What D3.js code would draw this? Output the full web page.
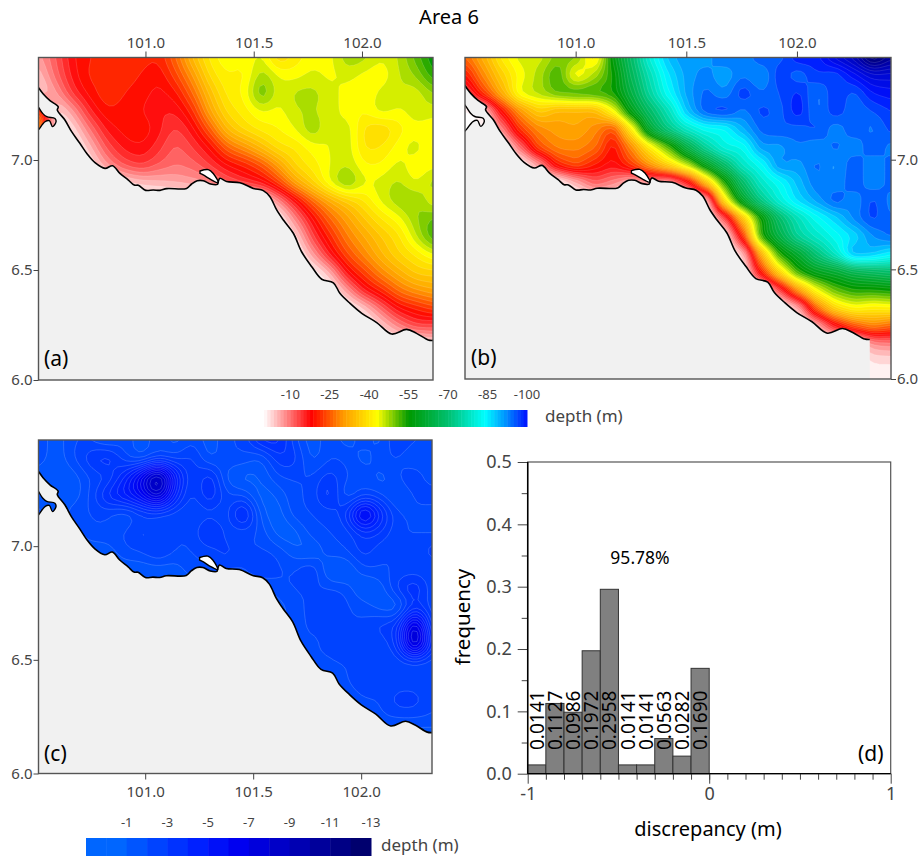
<!DOCTYPE html>
<html>
<head>
<meta charset="utf-8">
<script src="https://cdn.jsdelivr.net/npm/d3@7"></script>
<style>
  html, body { margin: 0; padding: 0; background: #fff; }
  svg text { font-family: "Noto Sans", sans-serif; }
</style>
</head>
<body>
<svg id="chart" width="919" height="861"></svg>
<script>
// depth, metres below sea level, rows top to bottom, land = 0
var depthA = [
  [8,13,19,21,22,21,22,21,27,36,42,45,43,46,38,42,44,44,49,48,45,47,52,57],
  [5,12,18,22,21,22,21,19,24,31,40,43,42,49,45,44,46,44,46,44,43,47,49,55],
  [3,8,16,20,23,21,20,18,20,27,36,42,43,53,45,48,48,46,44,43,46,47,45,49],
  [28,2,8,17,21,20,19,17,17,22,33,40,42,45,44,47,47,46,44,43,47,44,47,46],
  [38,0,3,11,18,20,21,18,14,18,26,36,40,42,43,45,50,44,47,40,38,42,44,43],
  [5,0,0,6,14,18,19,16,12,15,19,27,31,36,41,41,44,45,47,40,41,44,47,42],
  [0,0,0,2,9,14,16,13,11,12,15,19,21,25,32,40,42,45,47,43,43,46,43,44],
  [0,0,0,0,0,3,5,6,7,8,9,13,16,18,24,33,39,46,52,45,46,48,44,49],
  [0,0,0,0,0,0,0,0,0,0,0,0,0,0,9,18,27,33,37,41,46,49,50,44],
  [0,0,0,0,0,0,0,0,0,0,0,0,0,0,0,10,19,27,32,37,41,44,49,52],
  [0,0,0,0,0,0,0,0,0,0,0,0,0,0,0,3,15,22,29,33,37,40,47,54],
  [0,0,0,0,0,0,0,0,0,0,0,0,0,0,0,0,8,18,25,30,35,39,41,45],
  [0,0,0,0,0,0,0,0,0,0,0,0,0,0,0,0,0,6,19,24,30,34,38,38],
  [0,0,0,0,0,0,0,0,0,0,0,0,0,0,0,0,0,0,8,18,22,28,31,33],
  [0,0,0,0,0,0,0,0,0,0,0,0,0,0,0,0,0,0,0,4,12,19,21,24],
  [0,0,0,0,0,0,0,0,0,0,0,0,0,0,0,0,0,0,0,0,4,10,15,14],
  [0,0,0,0,0,0,0,0,0,0,0,0,0,0,0,0,0,0,0,0,0,0,0,3],
  [0,0,0,0,0,0,0,0,0,0,0,0,0,0,0,0,0,0,0,0,0,0,0,0],
  [0,0,0,0,0,0,0,0,0,0,0,0,0,0,0,0,0,0,0,0,0,0,0,0]
];

// panel (b)
var depthB = [
  [27,34,42,46,46,50,50,40,58,70,82,90,93,92,95,93,97,96,101,100,106,110,120,114],
  [20,30,38,44,48,54,42,48,55,68,78,87,92,94,91,95,92,99,95,99,97,102,106,106],
  [12,24,34,46,48,52,54,54,55,65,76,85,92,96,93,99,95,97,100,94,99,96,101,102],
  [0,3,20,31,38,34,34,34,44,60,70,78,90,97,99,94,98,96,101,94,99,95,97,99],
  [0,0,10,24,30,32,33,30,24,42,64,74,80,84,84,91,96,97,96,98,93,97,94,98],
  [0,0,0,12,26,30,30,28,19,30,42,52,66,76,83,83,93,92,95,93,96,93,97,94],
  [0,0,0,0,8,22,26,21,18,24,32,40,48,60,70,80,84,94,92,96,92,97,93,96],
  [0,0,0,0,0,0,6,13,10,5,8,6,16,36,54,70,80,84,90,95,93,97,93,96],
  [0,0,0,0,0,0,0,0,0,0,0,0,0,2,42,62,74,82,88,92,97,93,98,94],
  [0,0,0,0,0,0,0,0,0,0,0,0,0,0,12,36,55,70,78,84,88,94,98,95],
  [0,0,0,0,0,0,0,0,0,0,0,0,0,0,0,22,56,66,76,80,84,87,93,96],
  [0,0,0,0,0,0,0,0,0,0,0,0,0,0,0,4,34,55,62,72,80,92,90,86],
  [0,0,0,0,0,0,0,0,0,0,0,0,0,0,0,0,22,40,55,60,62,66,68,70],
  [0,0,0,0,0,0,0,0,0,0,0,0,0,0,0,0,0,14,32,45,52,55,55,56],
  [0,0,0,0,0,0,0,0,0,0,0,0,0,0,0,0,0,0,6,28,40,44,42,43],
  [0,0,0,0,0,0,0,0,0,0,0,0,0,0,0,0,0,0,0,6,18,26,30,27],
  [0,0,0,0,0,0,0,0,0,0,0,0,0,0,0,0,0,0,0,0,0,0,9,10],
  [0,0,0,0,0,0,0,0,0,0,0,0,0,0,0,0,0,0,0,0,0,0,3,3],
  [0,0,0,0,0,0,0,0,0,0,0,0,0,0,0,0,0,0,0,0,0,0,2,2]
];

// panel (c), size of the difference in metres, land left at the background level
var depthC = [
  [3,2,3,3,2,3,2,3,2,3,2,3,3,5,5,3,2,3,2,3,2,4,3,3],
  [3,2,3,4,5,3,2,3,3,4,2,3,3,2,4,4,2,3,3,2,3,3,2,3],
  [2,2,2,3,3,5,8,12,6,3,5,2,1.5,2,3,3,3,4,3,3,2,3,4,2],
  [2,2,2,3,5,6,7,10,5,3,5,3,3,1.5,2,3,3,5,2,3,3,2,3,4],
  [3,2,3,3,3,2,3,3,3,3,3,3,6,2,1.5,3,3,3,4,9,5,3,3,2],
  [2,2,2,3,3,3,4,3,3,3,5,3,3,3,1.5,1.5,3,3,3,4,4,3,3,3],
  [2,2,2,2,2,3,3,4,3,3,3,4,3,3,3,2,1.5,3,3,4,3,3,3,4],
  [2,2,2,2,2,2,2,2,2,3,3,3,3,4,3,3,4,1.5,1.5,3,3,3,3,3],
  [2,2,2,2,2,2,2,2,2,2,2,2,2,2,3,3,3,3,3,1.5,2,4,5,3],
  [2,2,2,2,2,2,2,2,2,2,2,2,2,2,2,3,3,4,3,3,2,1.5,4,3],
  [2,2,2,2,2,2,2,2,2,2,2,2,2,2,2,3,3,3,3,3,4,4,10,3],
  [2,2,2,2,2,2,2,2,2,2,2,2,2,2,2,3,3,3,4,3,3,4,11,4],
  [2,2,2,2,2,2,2,2,2,2,2,2,2,2,2,2,3,3,3,3,3,3,3,3],
  [2,2,2,2,2,2,2,2,2,2,2,2,2,2,2,2,2,2,3,4,3,3,3,3],
  [2,2,2,2,2,2,2,2,2,2,2,2,2,2,2,2,2,2,2,3,3,4,4,3],
  [2,2,2,2,2,2,2,2,2,2,2,2,2,2,2,2,2,2,2,2,3,3,3,3],
  [2,2,2,2,2,2,2,2,2,2,2,2,2,2,2,2,2,2,2,2,2,2,2,2],
  [2,2,2,2,2,2,2,2,2,2,2,2,2,2,2,2,2,2,2,2,2,2,2,2],
  [2,2,2,2,2,2,2,2,2,2,2,2,2,2,2,2,2,2,2,2,2,2,2,2]
];

// coast outline, lon/lat
var coastLon = [100.49,100.505,100.528,100.559,100.597,100.593,100.628,100.659,100.697,100.731,100.767,100.813,100.848,100.882,100.921,100.948,100.967,101.001,101.036,101.067,101.098,101.190,101.213,101.239,101.267,101.301,101.332,101.336,101.344,101.375,101.436,101.498,101.544,101.575,101.606,101.637,101.683,101.721,101.768,101.814,101.868,101.898,101.945,101.999,102.068,102.137,102.206,102.252,102.306,102.329];
var coastLat = [7.352,7.330,7.300,7.270,7.242,7.227,7.182,7.129,7.076,7.027,6.988,6.962,6.974,6.939,6.909,6.886,6.885,6.862,6.864,6.862,6.870,6.871,6.891,6.906,6.906,6.891,6.889,6.902,6.917,6.902,6.897,6.871,6.861,6.833,6.773,6.727,6.667,6.583,6.515,6.458,6.442,6.394,6.348,6.303,6.261,6.209,6.230,6.212,6.182,6.180];
var islandLon = [101.252,101.290,101.313,101.336,101.306,101.267,101.252];
var islandLat = [6.950,6.956,6.939,6.897,6.909,6.932,6.939];
var inletLon = [100.49,100.505,100.525,100.544,100.582,100.587,100.571,100.556,100.536,100.505,100.49];
var inletLat = [7.262,7.242,7.212,7.197,7.189,7.174,7.152,7.179,7.174,7.136,7.122];

var lonTicks = [101.0, 101.5, 102.0];
var latTicks = [6.0, 6.5, 7.0];

var depthTicks = [-10, -25, -40, -55, -70, -85, -100];
var diffTicks = [-1, -3, -5, -7, -9, -11, -13];

var histBins = [-1, -0.9, -0.8, -0.7, -0.6, -0.5, -0.4, -0.3, -0.2, -0.1];
var histFreq = [0.0141, 0.1127, 0.0986, 0.1972, 0.2958, 0.0141, 0.0141, 0.0563, 0.0282, 0.1690];
var freqTicks = [0, 0.1, 0.2, 0.3, 0.4, 0.5];

var tickColor = '#444';

var depthColor = d3.scaleLinear()
  .domain([0, 18, 30, 43, 55, 70, 84, 92, 100, 112, 125])
  .range(['#ffffff', '#ff0000', '#ff9900', '#ffff00', '#009900', '#00c070', '#00ffff', '#0090ff', '#0010ff', '#0000a0', '#000030'])
  .clamp(true);

var diffColor = d3.scaleLinear()
  .domain([1, 5, 7, 9, 13])
  .range(['#0066ff', '#0020ff', '#0000f0', '#0000c8', '#00006e'])
  .clamp(true);

var svg = d3.select('#chart');

svg.append('text')
  .attr('x', 449).attr('y', 24)
  .attr('text-anchor', 'middle')
  .style('font-size', '20px')
  .text('Area 6');

function styleAxis(g, size) {
  g.select('.domain').remove();
  g.selectAll('line').attr('stroke', '#444').attr('stroke-width', 1);
  g.selectAll('text').attr('fill', tickColor).style('font-size', size + 'px');
}

function drawMap(cfg) {
  var x = d3.scaleLinear().domain(cfg.lon).range([cfg.left, cfg.right]);
  var y = d3.scaleLinear().domain(cfg.lat).range([cfg.bottom, cfg.top]);

  var ny = cfg.grid.length, nx = cfg.grid[0].length;
  var f = 4;  // cells per reading, so the blur has room to round the contours
  var W = nx * f, H = ny * f;
  var values = new Float64Array(W * H);
  for (var j = 0; j < H; j++) {
    for (var i = 0; i < W; i++) {
      values[j * W + i] = cfg.grid[Math.floor(j / f)][Math.floor(i / f)];
    }
  }
  d3.blur2({data: values, width: W, height: H}, cfg.blur);

  var gx = d3.scaleLinear().domain([f / 2, W - f / 2]).range([cfg.left, cfg.right]);
  var gy = d3.scaleLinear().domain([f / 2, H - f / 2]).range([cfg.top, cfg.bottom]);
  var path = d3.geoPath(d3.geoTransform({
    point: function(a, b) { this.stream.point(gx(a), gy(b)); }
  }));

  var contours = d3.contours().size([W, H]).thresholds(cfg.levels)(values);

  svg.append('clipPath').attr('id', 'clip-' + cfg.id)
    .append('rect')
    .attr('x', cfg.left).attr('y', cfg.top)
    .attr('width', cfg.right - cfg.left).attr('height', cfg.bottom - cfg.top);

  var g = svg.append('g').attr('clip-path', 'url(#clip-' + cfg.id + ')');

  g.append('rect')
    .attr('x', cfg.left).attr('y', cfg.top)
    .attr('width', cfg.right - cfg.left).attr('height', cfg.bottom - cfg.top)
    .attr('fill', cfg.color(0));

  g.selectAll('path.band').data(contours).enter().append('path')
    .attr('class', 'band')
    .attr('d', path)
    .attr('fill', function(d) { return cfg.color(d.value); })
    .attr('stroke', cfg.line)
    .attr('stroke-width', 0.5);

  var line = d3.line()
    .x(function(d) { return x(d[0]); })
    .y(function(d) { return y(d[1]); })
    .curve(d3.curveCatmullRom.alpha(0.5));

  var coast = d3.zip(coastLon, coastLat);
  var inlet = d3.zip(inletLon, inletLat);
  var island = d3.zip(islandLon, islandLat);
  var lastLon = coastLon[coastLon.length - 1];
  var land = line(coast) +
    'L' + x(lastLon) + ',' + (cfg.bottom + 5) +
    'L' + x(coastLon[0]) + ',' + (cfg.bottom + 5) + 'Z' +
    line(inlet) + 'Z';

  g.append('path')
    .attr('d', land)
    .attr('fill', '#f1f1f1')
    .attr('fill-rule', 'evenodd');

  g.append('path')
    .attr('d', line(island) + 'Z')
    .attr('fill', '#fff')
    .attr('stroke', '#000')
    .attr('stroke-width', 1.4);

  g.append('path')
    .attr('d', line(coast))
    .attr('fill', 'none')
    .attr('stroke', '#000')
    .attr('stroke-width', 1.6);

  g.append('path')
    .attr('d', line(inlet))
    .attr('fill', 'none')
    .attr('stroke', '#000')
    .attr('stroke-width', 1.4);

  // frame
  svg.append('rect')
    .attr('x', cfg.left).attr('y', cfg.top)
    .attr('width', cfg.right - cfg.left).attr('height', cfg.bottom - cfg.top)
    .attr('fill', 'none')
    .attr('stroke', '#555')
    .attr('stroke-width', 1.4);

  var lonAxis = (cfg.lonSide === 'top' ? d3.axisTop(x) : d3.axisBottom(x))
    .tickValues(lonTicks).tickFormat(d3.format('.1f')).tickSize(6).tickPadding(cfg.lonSide === 'top' ? 4 : 7);
  svg.append('g')
    .attr('transform', 'translate(0,' + (cfg.lonSide === 'top' ? cfg.top : cfg.bottom) + ')')
    .call(lonAxis)
    .call(styleAxis, 15);

  var latAxis = (cfg.latSide === 'left' ? d3.axisLeft(y) : d3.axisRight(y))
    .tickValues(latTicks).tickFormat(d3.format('.1f')).tickSize(5).tickPadding(1);
  svg.append('g')
    .attr('transform', 'translate(' + (cfg.latSide === 'left' ? cfg.left : cfg.right) + ',0)')
    .call(latAxis)
    .call(styleAxis, 15);

  svg.append('text')
    .attr('x', cfg.tagX).attr('y', cfg.tagY)
    .style('font-size', '21px')
    .text(cfg.tag);
}

drawMap({
  id: 'a', tag: '(a)', tagX: 44, tagY: 366,
  grid: depthA, color: depthColor, levels: d3.range(1, 126, 2), blur: 1.2,
  line: 'rgba(255,255,255,0.3)',
  lon: [100.506, 102.328], lat: [6.0, 7.466],
  left: 38.5, right: 433, top: 57.5, bottom: 380,
  lonSide: 'top', latSide: 'left'
});

drawMap({
  id: 'b', tag: '(b)', tagX: 471, tagY: 365,
  grid: depthB, color: depthColor, levels: d3.range(1, 126, 2), blur: 1,
  line: 'rgba(255,255,255,0.25)',
  lon: [100.5, 102.425], lat: [6.0, 7.466],
  left: 465, right: 891, top: 57.5, bottom: 379,
  lonSide: 'top', latSide: 'right'
});

drawMap({
  id: 'c', tag: '(c)', tagX: 44, tagY: 761,
  grid: depthC, color: diffColor, levels: d3.range(1, 14, 0.5), blur: 1.3,
  line: 'rgba(190,215,255,0.45)',
  lon: [100.506, 102.328], lat: [6.0, 7.467],
  left: 38.5, right: 432, top: 440, bottom: 773.5,
  lonSide: 'bottom', latSide: 'left'
});

// colour bars
function drawLegend(cfg) {
  var x = d3.scaleLinear().domain(cfg.domain).range([cfg.left, cfg.right]);
  svg.selectAll('rect.' + cfg.id).data(cfg.swatches).enter().append('rect')
    .attr('class', cfg.id)
    .attr('x', function(d) { return x(d); })
    .attr('y', cfg.top)
    .attr('width', function(d) { return x(d - cfg.step) - x(d) + 0.5; })
    .attr('height', cfg.height)
    .attr('fill', function(d) { return cfg.color(-d + cfg.step / 2); });

  svg.selectAll('text.' + cfg.id).data(cfg.ticks).enter().append('text')
    .attr('class', cfg.id)
    .attr('x', function(d) { return x(d); })
    .attr('y', cfg.top - 11)
    .attr('text-anchor', 'middle')
    .attr('fill', tickColor)
    .style('font-size', '13px')
    .text(function(d) { return d; });

  svg.append('text')
    .attr('x', cfg.labelX).attr('y', cfg.top + cfg.height - 5)
    .attr('fill', tickColor)
    .style('font-size', '17px')
    .text('depth (m)');
}

drawLegend({
  id: 'legend-depth', domain: [0, -100], left: 264, right: 527, top: 410, height: 17,
  step: 1.25, swatches: d3.range(0, -100, -1.25), ticks: depthTicks,
  color: depthColor, labelX: 545
});

drawLegend({
  id: 'legend-diff', domain: [1, -13], left: 86, right: 371, top: 838, height: 18,
  step: 1, swatches: d3.range(1, -13, -1), ticks: diffTicks,
  color: function(v) { return diffColor(v + 0.5); }, labelX: 381
});

// panel (d)
var hx = d3.scaleLinear().domain([-1, 1]).range([527.7, 890.7]);
var hy = d3.scaleLinear().domain([0, 0.5]).range([773.7, 462]);

svg.append('rect')
  .attr('x', hx(-1)).attr('y', hy(0.5))
  .attr('width', hx(1) - hx(-1)).attr('height', hy(0) - hy(0.5))
  .attr('fill', '#fff')
  .attr('stroke', '#555')
  .attr('stroke-width', 1.2);

svg.selectAll('rect.bar').data(histBins).enter().append('rect')
  .attr('class', 'bar')
  .attr('x', function(d) { return hx(d); })
  .attr('y', function(d, i) { return hy(histFreq[i]); })
  .attr('width', function(d) { return hx(d + 0.1) - hx(d); })
  .attr('height', function(d, i) { return hy(0) - hy(histFreq[i]); })
  .attr('fill', '#808080')
  .attr('stroke', '#333')
  .attr('stroke-width', 1);

svg.selectAll('text.barlabel').data(histBins).enter().append('text')
  .attr('class', 'barlabel')
  .attr('transform', function(d) { return 'translate(' + (hx(d + 0.05) + 7) + ',750) rotate(-90)'; })
  .style('font-size', '19px')
  .text(function(d, i) { return d3.format('.4f')(histFreq[i]); });

// minor ticks first, major ones drawn on top
svg.append('g')
  .attr('transform', 'translate(' + hx(-1) + ',0)')
  .call(d3.axisLeft(hy).tickValues(d3.range(0.05, 0.5, 0.1)).tickFormat('').tickSize(6))
  .call(styleAxis, 18);

svg.append('g')
  .attr('transform', 'translate(' + hx(-1) + ',0)')
  .call(d3.axisLeft(hy).tickValues(freqTicks).tickFormat(d3.format('.1f')).tickSize(10).tickPadding(6))
  .call(styleAxis, 18);

svg.append('g')
  .attr('transform', 'translate(0,' + hy(0) + ')')
  .call(d3.axisBottom(hx).tickValues(d3.range(-0.9, 1, 0.1)).tickFormat('').tickSize(6))
  .call(styleAxis, 18);

svg.append('g')
  .attr('transform', 'translate(0,' + hy(0) + ')')
  .call(d3.axisBottom(hx).tickValues([-1, 0, 1]).tickFormat(function(d) { return String(d); }).tickSize(10).tickPadding(4))
  .call(styleAxis, 18);

svg.append('line')
  .attr('x1', hx(-1)).attr('x2', hx(-1))
  .attr('y1', hy(0.5)).attr('y2', hy(0))
  .attr('stroke', '#000').attr('stroke-width', 1.5);

svg.append('line')
  .attr('x1', hx(-1)).attr('x2', hx(1))
  .attr('y1', hy(0)).attr('y2', hy(0))
  .attr('stroke', '#000').attr('stroke-width', 1.2);

svg.append('text')
  .attr('x', 640).attr('y', 564)
  .attr('text-anchor', 'middle')
  .style('font-size', '17.5px')
  .text('95.78%');

svg.append('text')
  .attr('x', 858).attr('y', 761)
  .style('font-size', '21px')
  .text('(d)');

svg.append('text')
  .attr('x', 708).attr('y', 836)
  .attr('text-anchor', 'middle')
  .style('font-size', '20px')
  .text('discrepancy (m)');

svg.append('text')
  .attr('transform', 'translate(470,617) rotate(-90)')
  .attr('text-anchor', 'middle')
  .style('font-size', '20.5px')
  .text('frequency');
</script>
</body>
</html>
